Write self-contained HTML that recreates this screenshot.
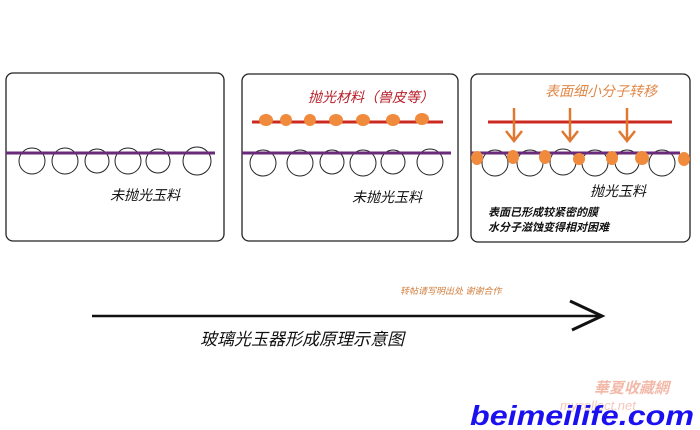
<!DOCTYPE html>
<html><head><meta charset="utf-8"><style>
html,body{margin:0;padding:0;background:#fff;width:700px;height:430px;overflow:hidden}
text{font-family:"Liberation Sans","Noto Sans CJK SC",sans-serif;font-style:italic}
</style></head><body>
<svg width="700" height="430" viewBox="0 0 700 430" xmlns="http://www.w3.org/2000/svg">
<rect width="700" height="430" fill="#fff"/>
<g fill="none" stroke="#222" stroke-width="1.3">
<rect x="6" y="73" width="218" height="168" rx="7"/>
<rect x="242" y="74" width="216" height="167" rx="7"/>
<rect x="471" y="74" width="219" height="168" rx="7"/>
</g>
<!-- panel 1 -->
<g fill="none" stroke="#222" stroke-width="1">
<circle cx="32" cy="161" r="13"/><circle cx="65" cy="161" r="13"/><circle cx="97" cy="161" r="12"/>
<circle cx="128" cy="161" r="13"/><circle cx="158" cy="161" r="12"/><circle cx="197" cy="161" r="14"/>
</g>
<line x1="6" y1="153" x2="215" y2="153" stroke="#6a2a7a" stroke-width="3"/>
<text x="110" y="200" font-size="14" fill="#111">未抛光玉料</text>
<!-- panel 2 -->
<line x1="252" y1="122" x2="443" y2="122" stroke="#cc2a20" stroke-width="3"/>
<g fill="#f08a3c">
<ellipse cx="266" cy="120" rx="7" ry="6"/><ellipse cx="286" cy="120" rx="6" ry="6"/><ellipse cx="310" cy="120" rx="6" ry="6"/>
<ellipse cx="336" cy="120" rx="7" ry="6"/><ellipse cx="363" cy="120" rx="7" ry="6"/><ellipse cx="393" cy="120" rx="7" ry="6"/><ellipse cx="422" cy="119" rx="7" ry="6"/>
</g>
<text x="308" y="102" font-size="14" fill="#b8202a">抛光材料（兽皮等）</text>
<g fill="none" stroke="#222" stroke-width="1">
<circle cx="263" cy="163" r="13"/><circle cx="300" cy="163" r="13"/><circle cx="332" cy="162" r="12"/>
<circle cx="363" cy="163" r="13"/><circle cx="393" cy="162" r="12"/><circle cx="430" cy="162" r="13"/>
</g>
<line x1="242" y1="153" x2="451" y2="153" stroke="#6a2a7a" stroke-width="3"/>
<text x="352" y="202" font-size="14" fill="#111">未抛光玉料</text>
<!-- panel 3 -->
<text x="545" y="96" font-size="14" fill="#e08848">表面细小分子转移</text>
<line x1="488" y1="122" x2="672" y2="122" stroke="#cc2a20" stroke-width="3"/>
<g stroke="#e07830" stroke-width="2.5" fill="none">
<line x1="514" y1="108" x2="514" y2="140"/><polyline points="506,131 514,141 522,131"/>
<line x1="570" y1="108" x2="570" y2="140"/><polyline points="562,131 570,141 578,131"/>
<line x1="627" y1="108" x2="627" y2="140"/><polyline points="619,131 627,141 635,131"/>
</g>
<g fill="none" stroke="#222" stroke-width="1">
<circle cx="495" cy="163" r="13"/><circle cx="530" cy="163" r="13"/><circle cx="563" cy="162" r="13"/>
<circle cx="595" cy="163" r="13"/><circle cx="627" cy="162" r="12"/><circle cx="662" cy="163" r="13"/>
</g>
<line x1="471" y1="153" x2="680" y2="153" stroke="#6a2a7a" stroke-width="3"/>
<g fill="#f08a3c">
<ellipse cx="477" cy="158" rx="6" ry="7"/><ellipse cx="513" cy="157" rx="6" ry="7"/><ellipse cx="545" cy="157" rx="6" ry="7"/>
<ellipse cx="579" cy="159" rx="6" ry="6"/><ellipse cx="612" cy="158" rx="6" ry="7"/><ellipse cx="642" cy="158" rx="7" ry="7"/><ellipse cx="684" cy="159" rx="6" ry="7"/>
</g>
<text x="590" y="196" font-size="14" fill="#111">抛光玉料</text>
<text x="488" y="216" font-size="11" fill="#111" font-weight="bold">表面已形成较紧密的膜</text>
<text x="488" y="231" font-size="11" fill="#111" font-weight="bold">水分子滋蚀变得相对困难</text>
<!-- bottom -->
<text x="400" y="294" font-size="9" fill="#d08040">转帖请写明出处 谢谢合作</text>
<line x1="92" y1="316" x2="600" y2="316" stroke="#111" stroke-width="2.5"/>
<polyline points="570,301 602,316 572,330" fill="none" stroke="#111" stroke-width="3"/>
<text x="200" y="345" font-size="17" fill="#111">玻璃光玉器形成原理示意图</text>
<text x="594" y="393" font-size="15" fill="#f2b8a8" font-weight="bold" font-style="normal">華夏收藏網</text>
<text x="560" y="410" font-size="13" fill="#f4c8bc" font-style="normal">mycollect.net</text>
<text x="470" y="425" font-size="28" fill="#1a10f0" font-weight="900" font-style="normal" textLength="224" lengthAdjust="spacingAndGlyphs">beimeilife.com</text>
</svg>
</body></html>
